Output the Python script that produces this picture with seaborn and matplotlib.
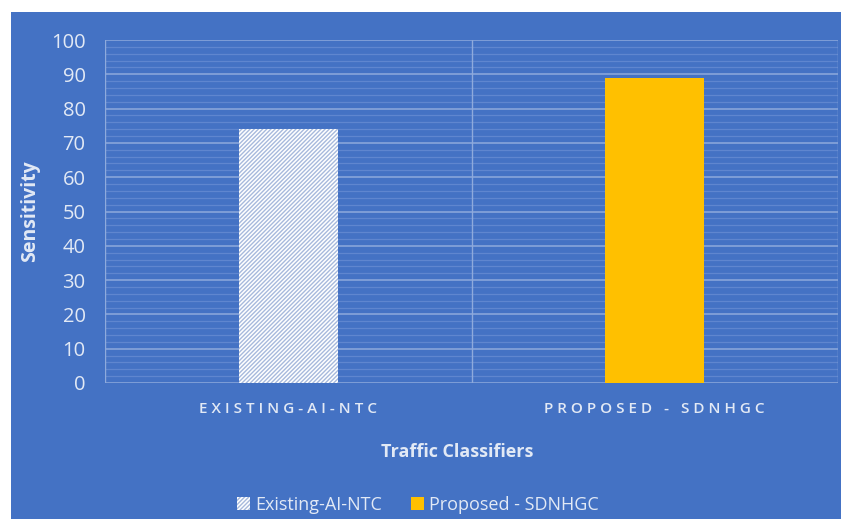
import pandas as pd
import matplotlib.pyplot as plt
import seaborn as sns
from matplotlib.patches import Patch, Rectangle
from matplotlib.ticker import MultipleLocator

# Data
classifiers = ['Existing-AI-NTC', 'Proposed - SDNHGC']
sensitivity = [74, 89]
tick_labels = ['EXISTING-AI-NTC', 'PROPOSED - SDNHGC']

data = pd.DataFrame({'Classifier': classifiers, 'Sensitivity': sensitivity})

bg = '#4472c4'
txt = '#e2e9f5'
major = '#8eaadc'
minor = '#5f86cf'
hatch_col = '#a7b9dc'

sns.set_style('white')
plt.rcParams['font.family'] = ['Open Sans', 'DejaVu Sans']
plt.rcParams['hatch.linewidth'] = 1.0

fig = plt.figure(figsize=(8.41, 5.19), dpi=100)
fig.add_artist(Rectangle((11 / 841, 0), 1, 1 - 12 / 519, transform=fig.transFigure,
                         facecolor=bg, edgecolor='none', zorder=-10))
ax = fig.add_axes([105 / 841, 1 - 383 / 519, 733 / 841, 343 / 519])
ax.set_facecolor(bg)

sns.barplot(data=data, x='Classifier', y='Sensitivity', hue='Classifier',
            palette=['white', '#ffc000'], saturation=1, width=0.27, ax=ax,
            legend=False, zorder=3)
bars = ax.patches
bars[0].set_hatch('////////')
bars[0].set_edgecolor(hatch_col)
bars[0].set_linewidth(0)
bars[1].set_linewidth(0)

ax.set_xlim(-0.5, 1.5)
ax.set_ylim(0, 100)
ax.yaxis.set_major_locator(MultipleLocator(10))
ax.yaxis.set_minor_locator(MultipleLocator(2))
ax.grid(which='minor', axis='y', color=minor, linewidth=0.9, zorder=1)
ax.grid(which='major', axis='y', color=major, linewidth=1.1, zorder=1)
for xv in [-0.5, 0.5, 1.5]:
    ax.axvline(xv, color=major, linewidth=1.0, zorder=1)
ax.set_axisbelow(True)
for s in ax.spines.values():
    s.set_visible(False)

ax.set_xticks(range(len(classifiers)))
ax.set_xticklabels([' '.join(t) for t in tick_labels], fontsize=11, color=txt,
                   fontweight='semibold')
ax.tick_params(axis='x', length=0, pad=14)
ax.tick_params(axis='y', which='both', length=0, pad=14, labelsize=14.5, labelcolor=txt)

ax.set_xlabel('Traffic Classifiers', fontsize=13, fontweight='bold', color=txt)
ax.set_ylabel('Sensitivity', fontsize=14, fontweight='bold', color=txt)
ax.xaxis.set_label_coords((457 - 105) / 733, (383 - 443) / 343)
ax.yaxis.set_label_coords((40 - 105) / 733, 0.5)

handles = [Patch(facecolor='white', hatch='////////', edgecolor=hatch_col, linewidth=0),
           Patch(facecolor='#ffc000', linewidth=0)]
leg = fig.legend(handles, classifiers, loc='center', bbox_to_anchor=(418 / 841, 1 - 505 / 519),
                 ncol=2, frameon=False, fontsize=13, handlelength=0.7, handleheight=0.7,
                 handletextpad=0.3, columnspacing=1.6)
for t in leg.get_texts():
    t.set_color(txt)

plt.savefig('out.png', dpi=100, facecolor='white')
